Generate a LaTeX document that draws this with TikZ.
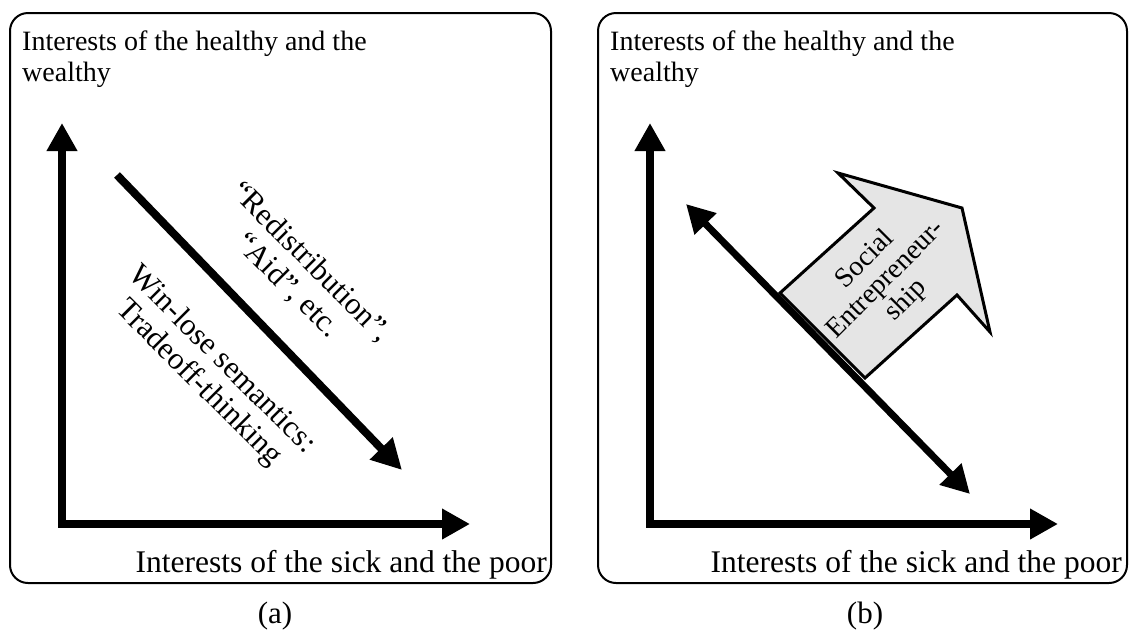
\documentclass[tikz,border=0pt]{standalone}
\usepackage{fontspec}
\setmainfont{Liberation Serif}
\usetikzlibrary{arrows.meta}
\tikzset{
  panel/.style={draw=black, line width=2pt, rounded corners=18pt},
  biaxis/.style={line width=8pt, line join=miter, {Triangle[length=28pt,width=29pt]}-{Triangle[length=28pt,width=29pt]}},
  diag/.style={line width=7pt, {Triangle[length=28pt,width=29pt]}-{Triangle[length=28pt,width=29pt]}},
  diagone/.style={line width=8pt, -{Triangle[length=30pt,width=30pt]}},
  bigarrow/.style={draw=black, line width=3pt, fill=black!10, line join=miter},
  title/.style={font=\fontsize{28}{31}\selectfont, align=left, inner sep=0pt, anchor=north west},
  xlabel/.style={font=\fontsize{31.5}{33}\selectfont, inner sep=0pt, anchor=base east},
  diaglabel/.style={font=\fontsize{31}{33}\selectfont, align=center, inner sep=0pt},
  selabel/.style={font=\fontsize{28}{29}\selectfont, align=center, inner sep=0pt},
  caption/.style={font=\fontsize{31}{33}\selectfont, inner sep=0pt}
}
\begin{document}
\begin{tikzpicture}[x=1pt,y=-1pt]
\useasboundingbox (0,0) rectangle (1129,641);
% panels
\draw[panel] (10,13) rectangle (551,583);
\draw[panel] (598,13) rectangle (1127,583);
% ---- panel (a)
\node[title] (ta) at (22,31) {Interests of the healthy and the\\wealthy};
\coordinate (ya) at (62,123);
\coordinate (oa) at (62,524);
\coordinate (xa) at (470,524);
\draw[biaxis] (ya) -- (oa) -- (xa);
\node[xlabel] (xla) at (547,572) {Interests of the sick and the poor};
\coordinate (da1) at (117,175);
\coordinate (da2) at (402,470);
\draw[diagone] (da1) -- (da2);
\node[diaglabel, rotate=-45] (red) at (299,274) {“Redistribution”,\\“Aid”, etc.};
\node[diaglabel, rotate=-45] (win) at (210,372) {Win-lose semantics:\\Tradeoff-thinking};
\node[caption] (capa) at (275,616) {(a)};
% ---- panel (b)
\node[title] (tb) at (610,31) {Interests of the healthy and the\\wealthy};
\coordinate (yb) at (650,123);
\coordinate (ob) at (650,524);
\coordinate (xb) at (1058,524);
\draw[biaxis] (yb) -- (ob) -- (xb);
\node[xlabel] (xlb) at (1122,572) {Interests of the sick and the poor};
\draw[bigarrow] (780,293) -- (874,208) -- (838,173) -- (962,208) -- (990,332) -- (957,295) -- (865,378) -- cycle;
\coordinate (db1) at (686,204);
\coordinate (db2) at (970,494);
\draw[diag] (db1) -- (db2);
\node[selabel, rotate=45] (se) at (886,280) {Social\\Entrepreneur-\\ship};
\node[caption] (capb) at (865,616) {(b)};
\end{tikzpicture}
\end{document}
